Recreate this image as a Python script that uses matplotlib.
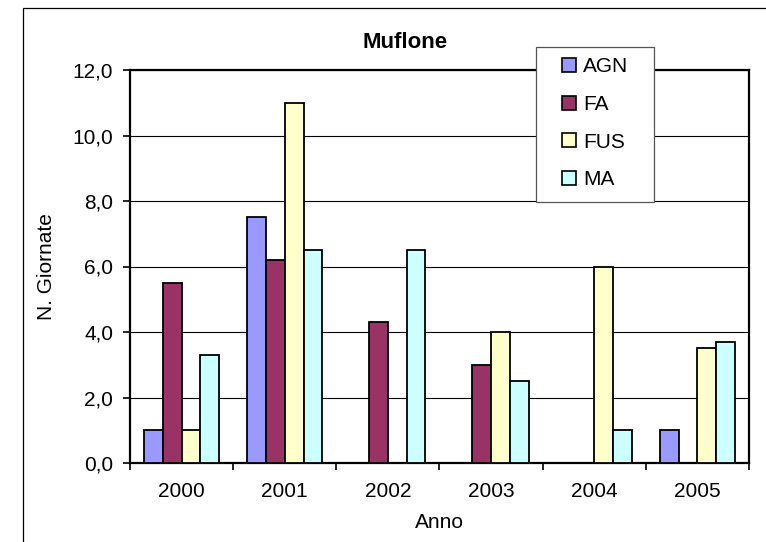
import matplotlib
matplotlib.use("Agg")
import matplotlib.pyplot as plt
from matplotlib.patches import Rectangle, Patch
from matplotlib.ticker import FuncFormatter, FixedLocator
import numpy as np

plt.rcParams['font.family'] = ['Liberation Sans', 'DejaVu Sans']

years = ["2000", "2001", "2002", "2003", "2004", "2005"]
series_names = ["AGN", "FA", "FUS", "MA"]
agn = [1.0, 7.5, 0.0, 0.0, 0.0, 1.0]
fa = [5.5, 6.2, 4.3, 3.0, 0.0, 0.0]
fus = [1.0, 11.0, 0.0, 4.0, 6.0, 3.5]
ma = [3.3, 6.5, 6.5, 2.5, 1.0, 3.7]
colors = ["#9999FF", "#993366", "#FFFFCC", "#CCFFFF"]

W, H = 766, 542
fig = plt.figure(figsize=(W / 100, H / 100), dpi=100)
fig.patch.set_facecolor("white")

# outer chart frame
fig.patches.append(Rectangle((23 / W, -0.1), 2.0, (H - 8) / H + 0.1, transform=fig.transFigure,
                             fill=False, edgecolor="black", lw=0.9, zorder=0))

ax = fig.add_axes([130 / W, (H - 463) / H, (749 - 130) / W, (463 - 70) / H])
ax.set_facecolor("white")

data = [agn, fa, fus, ma]
x = np.arange(len(years))
w = 1 / 5.5
for j, (vals, c, name) in enumerate(zip(data, colors, series_names)):
    ax.bar(x + (j - 1.5) * w, vals, width=w, color=c, edgecolor="black", linewidth=1.3,
           label=name, zorder=3)

ax.set_xlim(-0.5, len(years) - 0.5)
ax.set_ylim(0, 12)
ax.set_yticks(np.arange(0, 12.1, 2))
ax.yaxis.set_major_formatter(FuncFormatter(lambda v, p: f"{v:.1f}".replace(".", ",")))
ax.yaxis.grid(True, color="black", lw=0.8, zorder=1)
ax.set_axisbelow(True)

ax.set_xticks(x)
ax.set_xticklabels(years)
ax.xaxis.set_minor_locator(FixedLocator(np.arange(-0.5, len(years), 1.0)))
ax.tick_params(axis="x", which="major", length=0, pad=14, labelsize=15)
ax.tick_params(axis="x", which="minor", length=5, width=1.2, direction="out")
ax.tick_params(axis="y", which="major", length=5, width=1.2, direction="out", pad=7, labelsize=15)

for s in ax.spines.values():
    s.set_linewidth(1.6)
    s.set_color("black")

ax.set_xlabel("Anno", fontsize=15, labelpad=8)
ax.set_ylabel("N. Giornate", fontsize=15, labelpad=12)

fig.text(405 / W, 1 - 42 / H, "Muflone", fontsize=16, fontweight="bold", ha="center", va="center")

# legend box
fig.patches.append(Rectangle((536 / W, 1 - 202 / H), (654 - 536) / W, (202 - 47) / H,
                             transform=fig.transFigure, facecolor="white", edgecolor="#555555",
                             lw=0.9, zorder=4))
handles = [Patch(facecolor=c, edgecolor="black", lw=1.2) for c in colors]
leg = fig.legend(handles, series_names, loc="upper left",
                 bbox_to_anchor=(558 / W, 1 - 53 / H), frameon=False, fontsize=15,
                 handlelength=0.65, handleheight=0.65, handletextpad=0.35,
                 labelspacing=0.9, borderpad=0.2, borderaxespad=0)
leg.set_zorder(5)

fig.savefig("out.png", dpi=100)
